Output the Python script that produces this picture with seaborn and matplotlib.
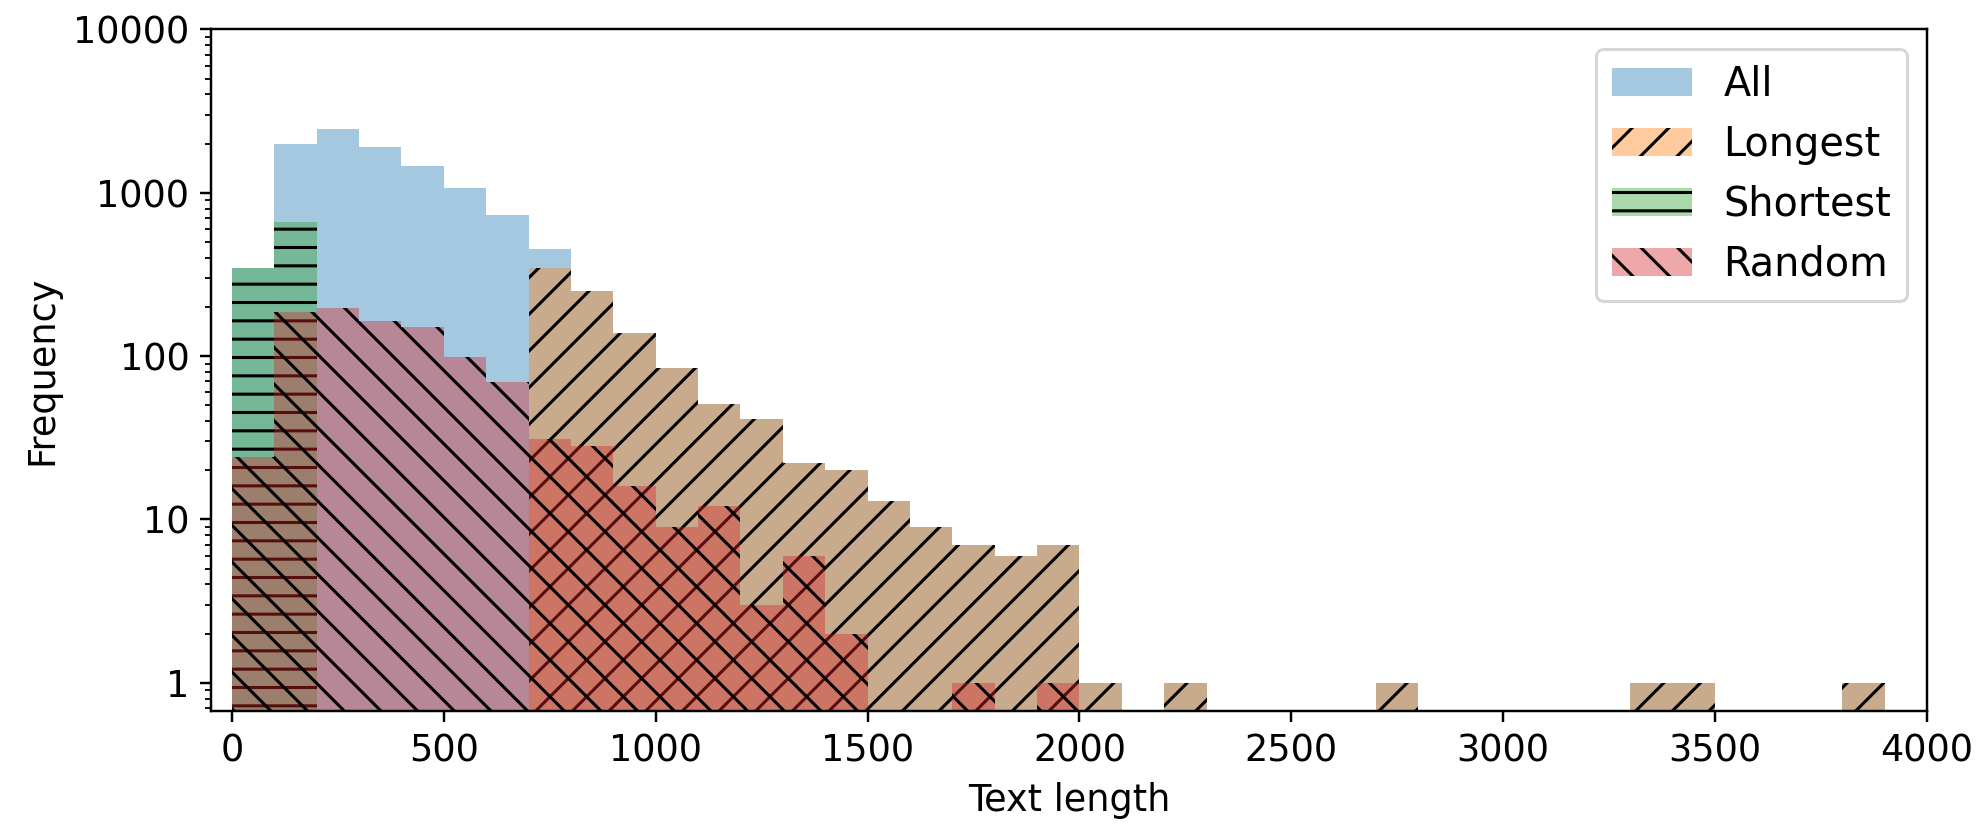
import numpy as np
import pandas as pd
import matplotlib
matplotlib.use("Agg")
import matplotlib.pyplot as plt
from matplotlib.ticker import ScalarFormatter
import seaborn as sns

# histogram counts per 100-char bin (0-100 ... 3800-3900)
bin_edges = list(range(0, 4000, 100))
tail = [1, 0, 1, 0, 0, 0, 0, 1, 0, 0, 0, 0, 0, 1, 1, 0, 0, 0, 1]  # 2000-3900

all_counts = [348, 1995, 2450, 1915, 1455, 1065, 733, 454, 250, 139,
              84, 51, 41, 22, 20, 13, 9, 7, 6, 7] + tail
longest_counts = [0, 0, 0, 0, 0, 0, 0, 348, 250, 139,
                  84, 51, 41, 22, 20, 13, 9, 7, 6, 7] + tail
shortest_counts = [348, 664] + [0] * 37
random_counts = [24, 186, 198, 164, 151, 98, 69, 31, 28, 16,
                 9, 12, 3, 6, 2, 0, 0, 1, 0, 1] + [0] * 19

subsets = ["All", "Longest", "Shortest", "Random"]
colors = ["C0", "C1", "C2", "C3"]
hatches = [None, "//", "--", "\\\\"]

centers = [e + 50 for e in bin_edges[:-1]]
frames = []
for name, counts in zip(subsets, [all_counts, longest_counts, shortest_counts, random_counts]):
    frames.append(pd.DataFrame({"length": centers, "count": counts, "subset": name}))
df = pd.concat(frames, ignore_index=True)

fig, ax = plt.subplots(figsize=(1988 / 220, 826 / 220), dpi=220)
fig.subplots_adjust(left=0.106, right=0.9693, top=0.9645, bottom=0.139)

for name, c, h in zip(subsets, colors, hatches):
    sns.histplot(
        data=df[df["subset"] == name],
        x="length",
        weights="count",
        bins=bin_edges,
        ax=ax,
        facecolor=matplotlib.colors.to_rgba(c, 0.4),
        edgecolor="black",
        linewidth=0,
        hatch=h,
        label=name,
    )

ax.set_yscale("log")
ax.set_ylim(0.67, 10000)
ax.set_xlim(-50, 4000)
ax.yaxis.set_major_formatter(ScalarFormatter())
ax.set_xlabel("Text length", fontsize=12)
ax.set_ylabel("Frequency", fontsize=12)
ax.tick_params(labelsize=12)
ax.legend(fontsize=13)

fig.savefig("out.png", dpi=220)
